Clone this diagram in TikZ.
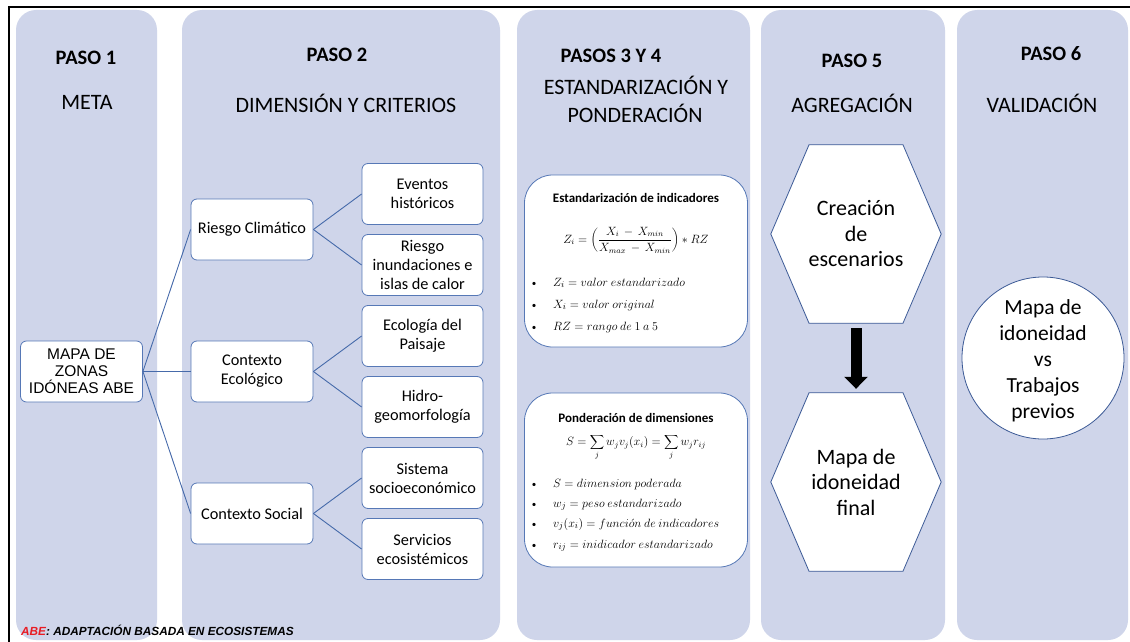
\documentclass[tikz,border=0pt]{standalone}
\usepackage{fontspec}
\setmainfont{Carlito}
\newfontfamily\arialf{Liberation Sans}
\usetikzlibrary{arrows.meta,calc}
\pgfdeclarelayer{background}
\pgfsetlayers{background,main}
\definecolor{panelc}{RGB}{207,213,234}
\definecolor{boxln}{RGB}{86,120,182}
\definecolor{linkc}{RGB}{70,106,170}
\definecolor{shapeln}{RGB}{60,90,150}
\definecolor{abered}{RGB}{232,28,36}
\begin{document}
\begin{tikzpicture}[x=1pt,y=-1pt,
 panel/.style={fill=panelc, rounded corners=20pt},
 headb/.style={anchor=base, font=\fontsize{20.5}{24}\selectfont\bfseries},
 headr/.style={anchor=base, font=\fontsize{22}{26}\selectfont},
 cbox/.style={draw=boxln, fill=white, line width=0.8pt, rounded corners=6pt, minimum width=122pt, minimum height=61pt, inner sep=1pt, align=center, font=\fontsize{16.3}{19}\selectfont},
 link/.style={draw=linkc, line width=0.9pt},
 mbox/.style={draw=boxln, fill=white, line width=0.8pt, rounded corners=28pt, minimum width=223pt, minimum height=172pt},
 mtitle/.style={anchor=base, font=\fontsize{13}{15}\selectfont\bfseries},
 mform/.style={font=\fontsize{11.5}{13}\selectfont},
 mbul/.style={anchor=base west, font=\fontsize{12.2}{13}\selectfont, inner sep=0pt},
 bdot/.style={anchor=base, font=\fontsize{9}{11}\selectfont, inner sep=0pt},
 hexn/.style={minimum width=170pt, minimum height=178pt, align=center, font=\fontsize{22}{25.5}\selectfont, inner sep=0pt},
 hexl/.style={draw=shapeln, fill=white, line width=0.8pt},
]
\useasboundingbox (0,0) rectangle (1130,642);
\begin{pgfonlayer}{background}
\fill[white] (0,0) rectangle (1130,642);
\fill[panel] (16,10) rectangle (157,640);
\fill[panel] (182,10) rectangle (500,640);
\fill[panel] (517,10) rectangle (750,640);
\fill[panel] (761,10) rectangle (945,640);
\fill[panel] (957,10) rectangle (1128,640);
\end{pgfonlayer}
\draw[line width=1.6pt] (9,642) -- (9,7) -- (1130,7);

% headings
\node[headb] (p1) at (86,65) {PASO 1};
\node[headr] (t1) at (87,110) {META};
\node[headb] (p2) at (337,62) {PASO 2};
\node[headr] (t2) at (346,112) {DIMENSIÓN Y CRITERIOS};
\node[headb] (p3) at (611,63) {PASOS 3 Y 4};
\node[headr] (t3a) at (636,95) {ESTANDARIZACIÓN Y};
\node[headr] (t3b) at (635,122) {PONDERACIÓN};
\node[headb] (p5) at (852,67) {PASO 5};
\node[headr] (t5) at (852,112) {AGREGACIÓN};
\node[headb] (p6) at (1051,60) {PASO 6};
\node[headr] (t6) at (1042,112) {VALIDACIÓN};

% paso 1 and 2 boxes
\node[cbox, font=\arialf\fontsize{15.5}{17}\selectfont] (goal) at (81.5,371.5) {MAPA DE\\ZONAS\\IDÓNEAS ABE};
\node[cbox] (rc) at (252,229.5) {Riesgo Climático};
\node[cbox] (ce) at (252,371.5) {Contexto\\Ecológico};
\node[cbox] (cs) at (252,513.5) {Contexto Social};
\node[cbox, minimum width=121pt] (ev) at (422.5,194) {Eventos\\históricos};
\node[cbox, minimum width=121pt] (ri) at (422.5,265) {Riesgo\\inundaciones e\\islas de calor};
\node[cbox, minimum width=121pt] (ep) at (422.5,336) {Ecología del\\Paisaje};
\node[cbox, minimum width=121pt] (hg) at (422.5,407) {Hidro-\\geomorfología};
\node[cbox, minimum width=121pt] (ss) at (422.5,478) {Sistema\\socioeconómico};
\node[cbox, minimum width=121pt] (se) at (422.5,549) {Servicios\\ecosistémicos};

\draw[link] (goal.east) -- (rc.west);
\draw[link] (goal.east) -- (ce.west);
\draw[link] (goal.east) -- (cs.west);
\draw[link] (rc.east) -- (ev.west);
\draw[link] (rc.east) -- (ri.west);
\draw[link] (ce.east) -- (ep.west);
\draw[link] (ce.east) -- (hg.west);
\draw[link] (cs.east) -- (ss.west);
\draw[link] (cs.east) -- (se.west);

% pasos 3 y 4
\node[mbox] (sbox) at (636,261) {};
\node[mtitle] (st) at (636,202) {Estandarización de indicadores};
\node[mform] (sf) at (636,240) {$\displaystyle Z_i = \left(\frac{X_i \,-\, X_{min}}{X_{max} \,-\, X_{min}}\right) * RZ$};
\node[bdot] (sb1) at (534,286) {\textbullet};
\node[mbul] (sl1) at (553,286) {$Z_i = valor\ estandarizado$};
\node[bdot] (sb2) at (534,308) {\textbullet};
\node[mbul] (sl2) at (553,308) {$X_i = valor\ original$};
\node[bdot] (sb3) at (534,330) {\textbullet};
\node[mbul] (sl3) at (553,330) {$RZ = rango\ de\ 1\ a\ 5$};

\node[mbox, minimum height=174pt] (pbox) at (636,480) {};
\node[mtitle] (pt) at (636,422) {Ponderación de dimensiones};
\node[mform] (pf) at (636,447) {$\displaystyle S = \sum_j w_j v_j(x_i) = \sum_j w_j r_{ij}$};
\node[bdot] (pb1) at (534,487) {\textbullet};
\node[mbul] (pl1) at (553,487) {$S = dimension\ poderada$};
\node[bdot] (pb2) at (534,507) {\textbullet};
\node[mbul] (pl2) at (553,507) {$w_j = peso\ estandarizado$};
\node[bdot] (pb3) at (534,527) {\textbullet};
\node[mbul] (pl3) at (553,527) {$v_j(x_i) = funci\acute{o}n\ de\ indicadores$};
\node[bdot] (pb4) at (534,548) {\textbullet};
\node[mbul] (pl4) at (553,548) {$r_{ij} = inidicador\ estandarizado$};

% paso 5
\node[hexn] (h1) at (856,234) {Creación\\de\\escenarios};
\node[hexn] (h2) at (856,482) {Mapa de\\idoneidad\\final};
\begin{pgfonlayer}{background}
\foreach \h in {h1,h2}
  \draw[hexl] (\h.west) -- ($(\h.north)+(-47,0)$) -- ($(\h.north)+(47,0)$) -- (\h.east)
    -- ($(\h.south)+(47,0)$) -- ($(\h.south)+(-47,0)$) -- cycle;
\end{pgfonlayer}
\draw[line width=11pt, -{Triangle[width=23pt,length=12pt]}] ($(h1.south)+(0,5)$) -- ($(h2.north)+(0,-4)$);

% paso 6
\node[draw=shapeln, fill=white, line width=0.8pt, circle, minimum size=162pt, inner sep=0pt] (val) at (1043,358) {};
\node[align=center, inner sep=0pt, font=\fontsize{21.5}{26}\selectfont] (valt) at (1043,361) {Mapa de\\idoneidad\\vs\\Trabajos\\previos};

% footnote
\node[anchor=base west, inner sep=0pt, font=\arialf\bfseries\itshape\fontsize{11.8}{14}\selectfont] (note) at (21,635) {\textcolor{abered}{ABE}: ADAPTACIÓN BASADA EN ECOSISTEMAS};
\end{tikzpicture}
\end{document}
